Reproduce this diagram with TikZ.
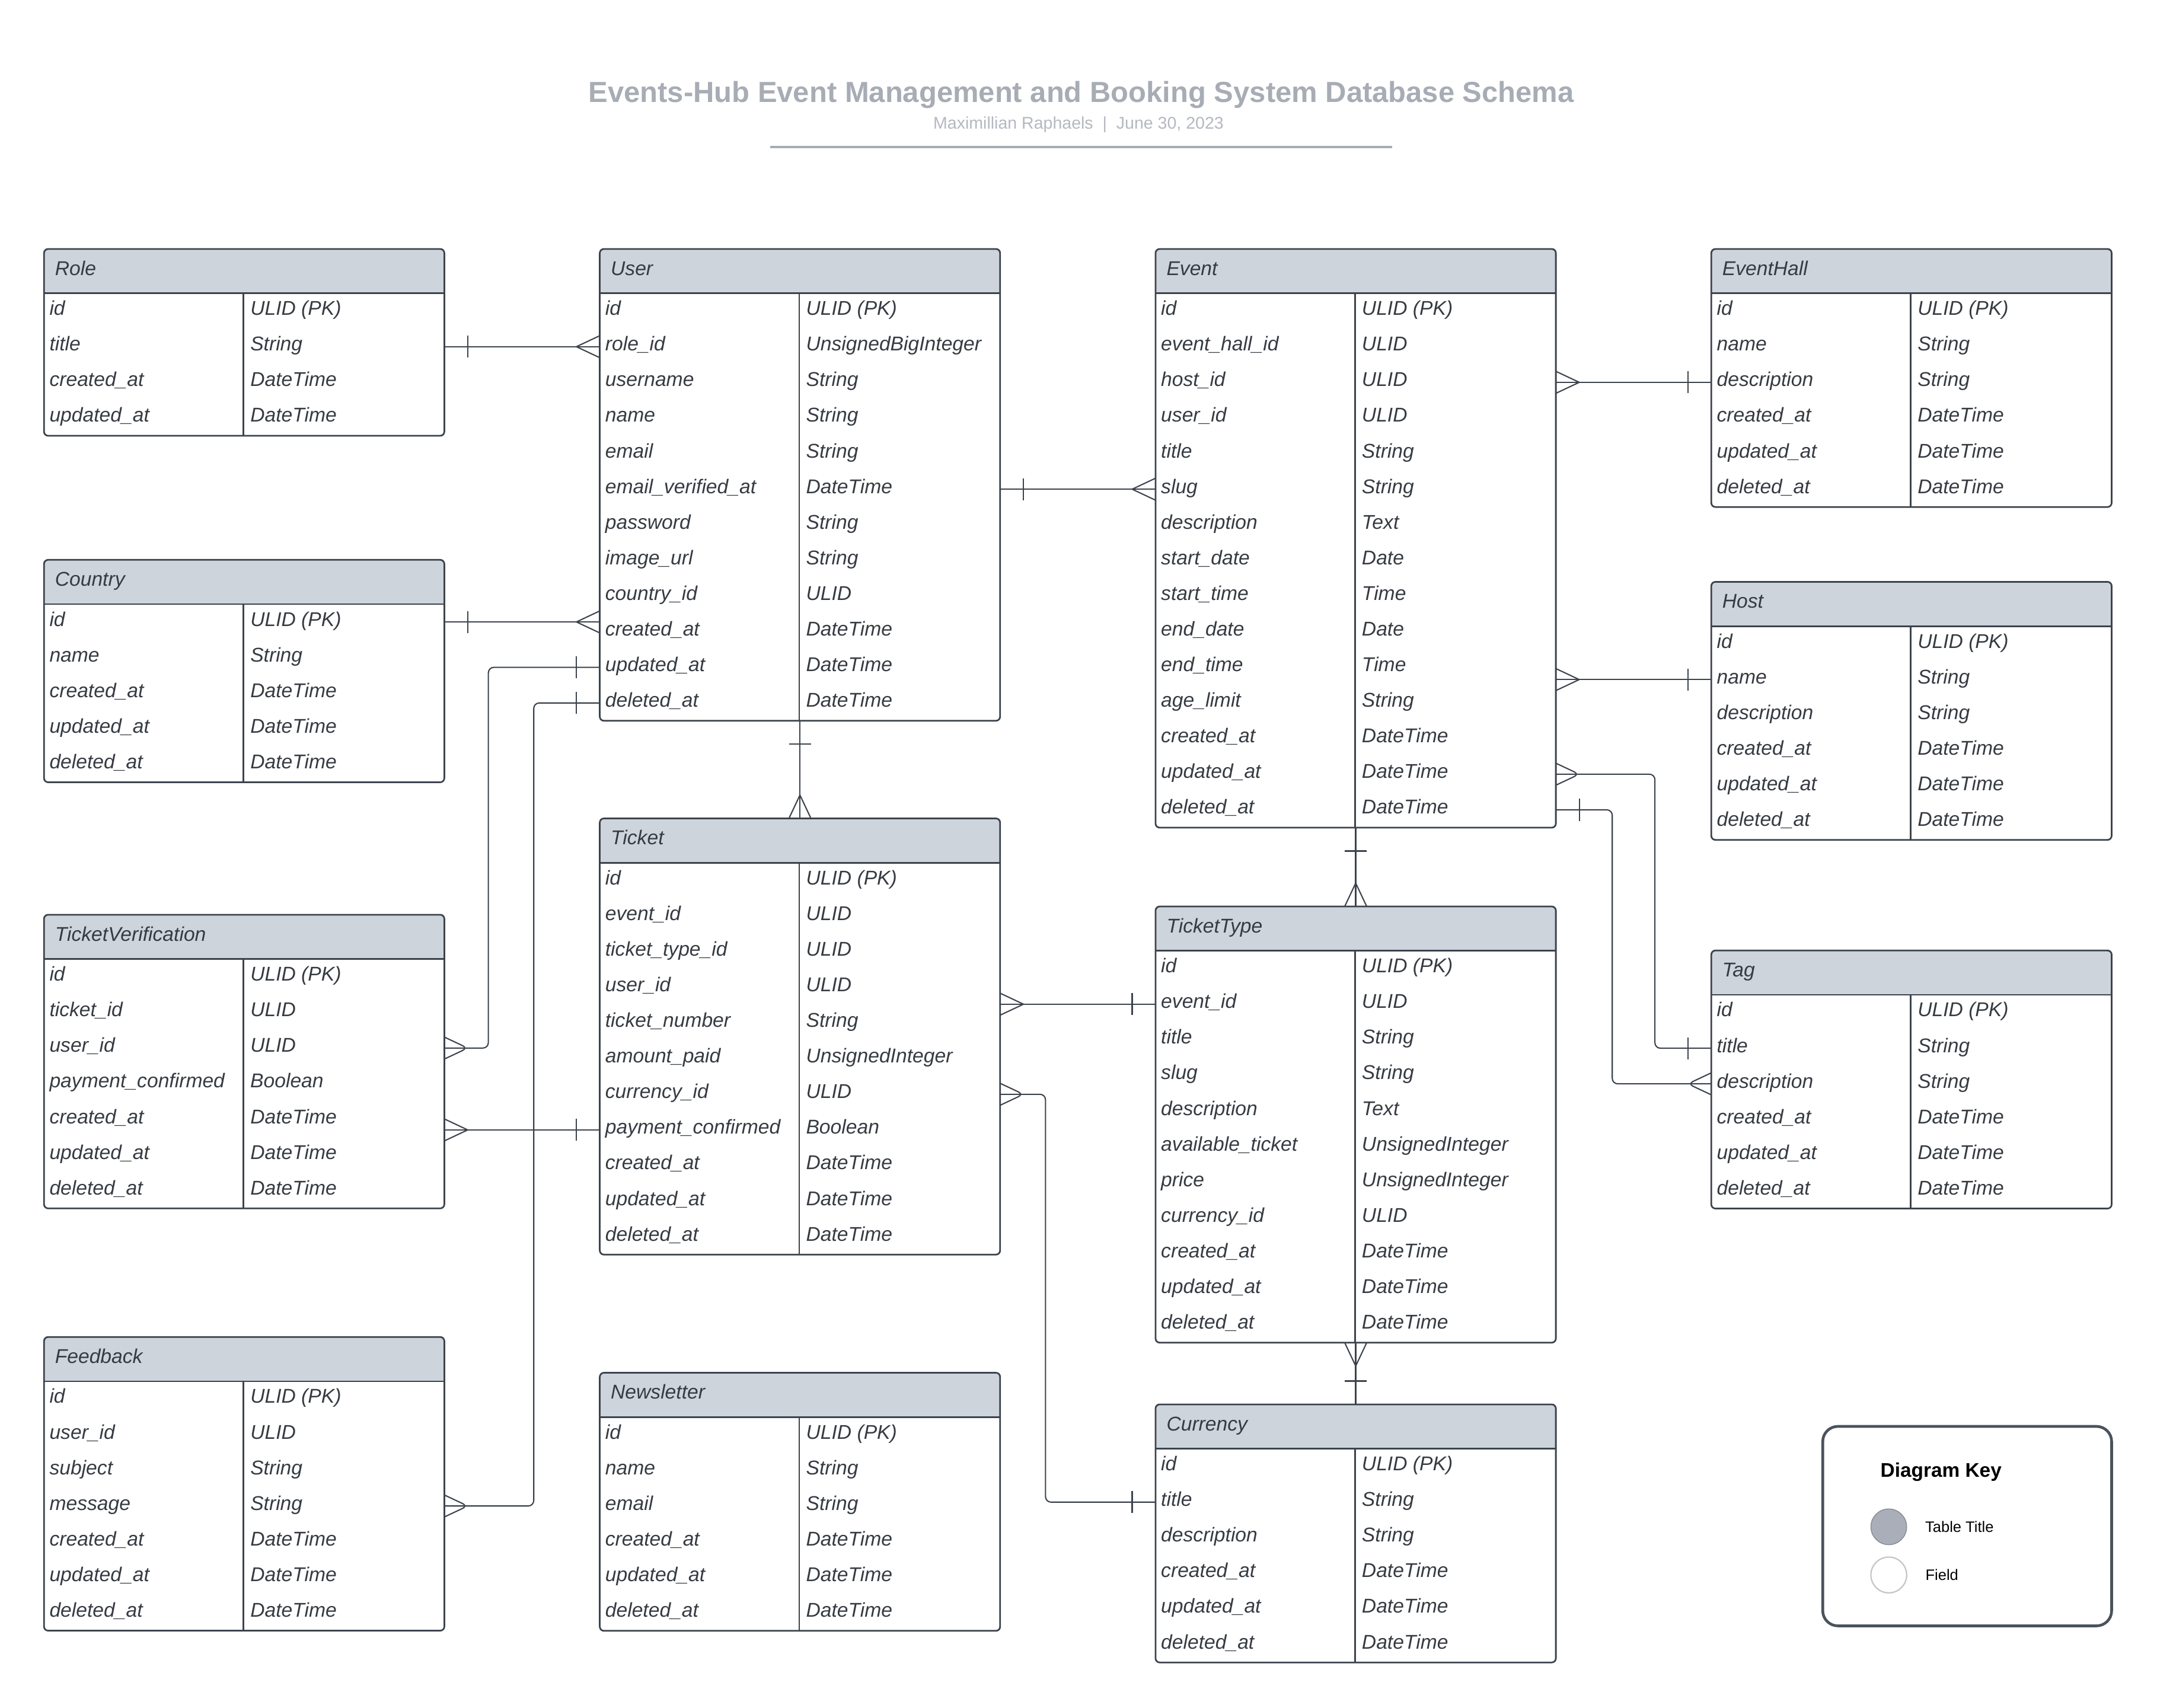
\documentclass[tikz,border=0pt]{standalone}
\usepackage{fontspec}
\setmainfont{Liberation Sans}
\usetikzlibrary{positioning,backgrounds,decorations.markings}

\definecolor{linec}{HTML}{3C434D}
\definecolor{headfill}{HTML}{CED4DC}
\definecolor{textc}{HTML}{363B42}
\definecolor{titlec}{HTML}{A7ACB5}
\definecolor{keyline}{HTML}{4A525C}
\definecolor{keyfill}{HTML}{A9AEB8}

% #1 name, #2 top left corner, #3 title, #4 field/type list
\newcommand{\ertable}[4]{%
  \node[tablehead] (#1-head) at (#2) {\makebox[291pt][l]{\hspace*{8pt}#3}};
  \foreach \f/\t [remember=\f as \p (initially head)] in {#4} {
    \node[tablerow] (#1-\f) at (#1-\p.south west)
      {\makebox[291pt][l]{\hspace*{4pt}\makebox[146pt][l]{\expandafter\detokenize\expandafter{\f}}\t}};
    \coordinate (#1-end) at (#1-\f.south east);
  }
  \begin{scope}[on background layer]
    \fill[headfill, rounded corners=3pt] (#1-head.south west) rectangle (#1-head.north east);
    \fill[headfill] (#1-head.west) rectangle (#1-head.south east);
  \end{scope}
  \coordinate (#1-div) at ([xshift=145pt]#1-head.south west);
  \draw[tableline, rounded corners=3pt] (#1-head.north west) rectangle (#1-end);
  \draw[tableline] (#1-head.south west) -- (#1-head.south east);
  \draw[tableline] (#1-div) -- (#1-div |- #1-end);
}

\begin{document}
\begin{tikzpicture}[x=1pt, y=-1pt,
    tablehead/.style={anchor=north west, minimum width=291pt, minimum height=32.2pt, inner sep=0pt,
      outer sep=0pt, text height=11pt, text depth=5pt, text=textc, font=\itshape\fontsize{14.5}{17}\selectfont},
    tablerow/.style={anchor=north west, minimum width=291pt, minimum height=25.9pt, inner sep=0pt,
      outer sep=0pt, text height=11pt, text depth=5pt, text=textc, font=\itshape\fontsize{14.5}{17}\selectfont},
    tableline/.style={draw=linec, line width=1.2pt},
    rel/.style={draw=linec, line width=0.9pt},
    onefrom/.style={postaction={decorate, decoration={markings,
      mark=at position 17pt with {\draw[rel] (0,-8pt) -- (0,8pt);}}}},
    oneto/.style={postaction={decorate, decoration={markings,
      mark=at position -17pt with {\draw[rel] (0,-8pt) -- (0,8pt);}}}},
    manyfrom/.style={postaction={decorate, decoration={markings,
      mark=at position 17pt with {\draw[rel] (-17pt,-8pt) -- (0,0) -- (-17pt,8pt);}}}},
    manyto/.style={postaction={decorate, decoration={markings,
      mark=at position -17pt with {\draw[rel] (17pt,-8pt) -- (0,0) -- (17pt,8pt);}}}},
    keylabel/.style={inner sep=0pt, font=\fontsize{11}{13}\selectfont}
  ]
  \useasboundingbox (0,0) rectangle (1568,1241.3);

  \node[font=\bfseries\fontsize{21.1}{25}\selectfont, text=titlec] (title) at (786,69)
    {Events-Hub Event Management and Booking System Database Schema};
  \node[font=\fontsize{12.3}{15}\selectfont, text=titlec!85] (subtitle) at (784,90.5)
    {Maximillian Raphaels\ \ |\ \ June 30, 2023};
  \draw[titlec, line width=1.6pt] (560,107) -- (1012,107);

  \ertable{role}{32,181}{Role}{id/{ULID (PK)},title/String,created_at/DateTime,updated_at/DateTime}
  \ertable{user}{436,181}{User}{id/{ULID (PK)},role_id/UnsignedBigInteger,username/String,name/String,%
    email/String,email_verified_at/DateTime,password/String,image_url/String,country_id/ULID,%
    created_at/DateTime,updated_at/DateTime,deleted_at/DateTime}
  \ertable{event}{840,181}{Event}{id/{ULID (PK)},event_hall_id/ULID,host_id/ULID,user_id/ULID,title/String,%
    slug/String,description/Text,start_date/Date,start_time/Time,end_date/Date,end_time/Time,%
    age_limit/String,created_at/DateTime,updated_at/DateTime,deleted_at/DateTime}
  \ertable{eventhall}{1244,181}{EventHall}{id/{ULID (PK)},name/String,description/String,%
    created_at/DateTime,updated_at/DateTime,deleted_at/DateTime}
  \ertable{country}{32,407}{Country}{id/{ULID (PK)},name/String,created_at/DateTime,updated_at/DateTime,%
    deleted_at/DateTime}
  \ertable{host}{1244,423}{Host}{id/{ULID (PK)},name/String,description/String,created_at/DateTime,%
    updated_at/DateTime,deleted_at/DateTime}
  \ertable{ticket}{436,595}{Ticket}{id/{ULID (PK)},event_id/ULID,ticket_type_id/ULID,user_id/ULID,%
    ticket_number/String,amount_paid/UnsignedInteger,currency_id/ULID,payment_confirmed/Boolean,%
    created_at/DateTime,updated_at/DateTime,deleted_at/DateTime}
  \ertable{verification}{32,665}{TicketVerification}{id/{ULID (PK)},ticket_id/ULID,user_id/ULID,%
    payment_confirmed/Boolean,created_at/DateTime,updated_at/DateTime,deleted_at/DateTime}
  \ertable{tickettype}{840,659}{TicketType}{id/{ULID (PK)},event_id/ULID,title/String,slug/String,%
    description/Text,available_ticket/UnsignedInteger,price/UnsignedInteger,currency_id/ULID,%
    created_at/DateTime,updated_at/DateTime,deleted_at/DateTime}
  \ertable{tag}{1244,691}{Tag}{id/{ULID (PK)},title/String,description/String,created_at/DateTime,%
    updated_at/DateTime,deleted_at/DateTime}
  \ertable{feedback}{32,972}{Feedback}{id/{ULID (PK)},user_id/ULID,subject/String,message/String,%
    created_at/DateTime,updated_at/DateTime,deleted_at/DateTime}
  \ertable{newsletter}{436,998}{Newsletter}{id/{ULID (PK)},name/String,email/String,created_at/DateTime,%
    updated_at/DateTime,deleted_at/DateTime}
  \ertable{currency}{840,1021}{Currency}{id/{ULID (PK)},title/String,description/String,%
    created_at/DateTime,updated_at/DateTime,deleted_at/DateTime}

  % relations
  \draw[rel, onefrom, manyto] (role-title.east) -- (user-role_id.west);
  \draw[rel, onefrom, manyto] (country-id.east) -- (country-id.east -| user-created_at.west);
  \draw[rel, onefrom, manyto, rounded corners=4pt] (user-updated_at.west) -- ++(-81,0) |- (verification-user_id.east);
  \draw[rel, onefrom, manyto, rounded corners=4pt] (user-deleted_at.west) -- ++(-48,0) |- (feedback-message.east);
  \draw[rel, onefrom, manyto] (ticket-payment_confirmed.west) -- (ticket-payment_confirmed.west -| verification-id.east);
  \draw[rel, onefrom, manyto] (user-deleted_at.south) -- (ticket-head.north);
  \draw[rel, onefrom, manyto] (user-email_verified_at.east) -- (event-slug.west);
  \draw[rel, manyfrom, oneto] (event-host_id.east) -- (eventhall-description.west);
  \draw[rel, onefrom, manyto] (host-name.west) -- (host-name.west -| event-id.east);
  \draw[rel, manyfrom, oneto, rounded corners=4pt] (event-updated_at.east) -- ++(72,0) |- (tag-title.west);
  \draw[rel, onefrom, manyto, rounded corners=4pt] (event-deleted_at.east) -- ++(41,0) |- (tag-description.west);
  \draw[rel, onefrom, manyto] (event-deleted_at.south) -- (tickettype-head.north);
  \draw[rel, onefrom, manyto] (tickettype-event_id.west) -- (tickettype-event_id.west -| ticket-id.east);
  \draw[rel, manyfrom, oneto, rounded corners=4pt] (ticket-currency_id.east) -- ++(33,0) |- (currency-title.west);
  \draw[rel, manyfrom, oneto] (tickettype-deleted_at.south) -- (currency-head.north);

  % key
  \node[draw=keyline, line width=2pt, rounded corners=11pt, minimum width=210pt, minimum height=145pt,
    inner sep=0pt] (key) at (1430,1109.5) {};
  \node[font=\bfseries\fontsize{14.4}{17}\selectfont] (keytitle) at (1411,1070) {Diagram Key};
  \node[circle, fill=keyfill, draw=keyfill!80!black, line width=0.6pt, minimum size=26pt, inner sep=0pt]
    (keytable) at (1373,1110) {};
  \node[circle, draw=black!22, line width=1pt, minimum size=26pt, inner sep=0pt] (keyfield) at (1373,1145) {};
  \node[keylabel, right=13pt of keytable] (keytablelabel) {Table Title};
  \node[keylabel, right=13pt of keyfield] (keyfieldlabel) {Field};
\end{tikzpicture}
\end{document}
